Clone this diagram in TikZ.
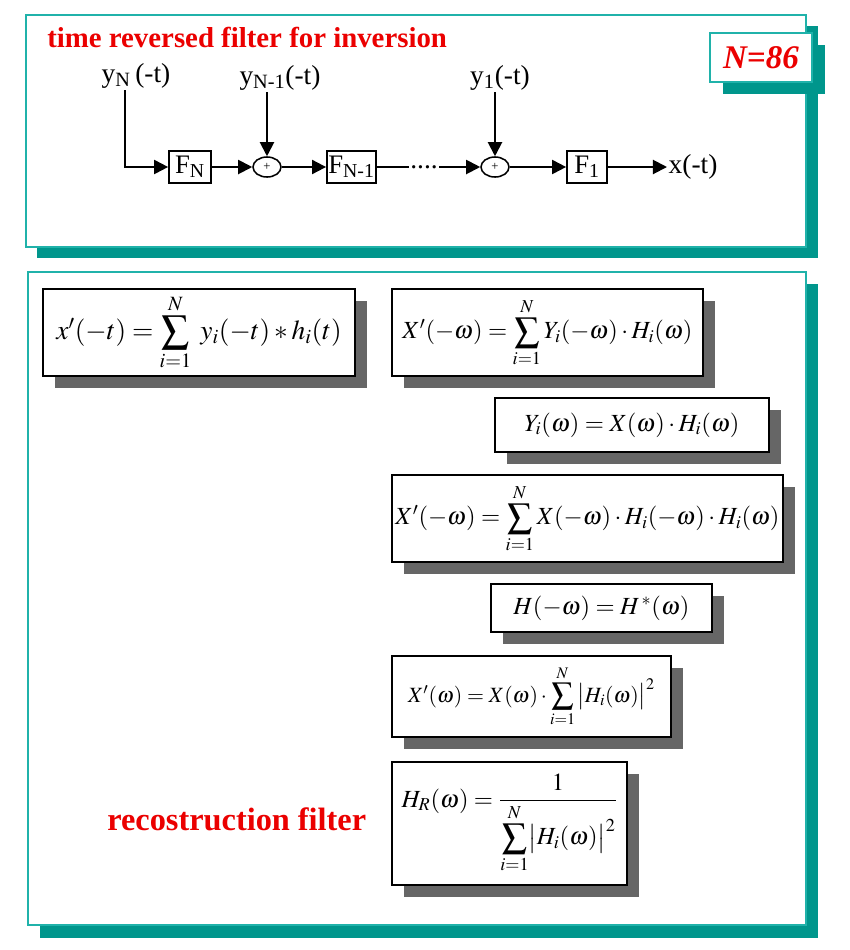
\documentclass[tikz,border=0pt]{standalone}
\usepackage{mathptmx}
\usepackage[no-math]{fontspec}
\setmainfont{Liberation Serif}
\usetikzlibrary{arrows.meta,shapes.geometric,shadows}
\definecolor{panelline}{RGB}{32,178,170}
\definecolor{panelshade}{RGB}{0,150,140}
\definecolor{boxshade}{RGB}{102,102,102}
\definecolor{headred}{RGB}{235,0,0}
\begin{document}
\begin{tikzpicture}[x=0.025cm,y=-0.025cm,
  sig/.style={line width=1.4pt,-{Triangle[length=10pt,width=10pt]}},
  blk/.style={draw,line width=1.2pt,minimum height=0.8cm,inner sep=1pt,font=\fontsize{19}{20}\selectfont},
  sum/.style={draw,ellipse,line width=1.1pt,minimum width=0.7cm,minimum height=0.5cm,inner sep=0pt,font=\fontsize{9}{10}\selectfont},
  lbl/.style={inner sep=1pt,font=\fontsize{19.5}{20}\selectfont},
  eqbox/.style={draw,line width=1.3pt,fill=white,inner sep=0pt,font=\fontsize{17.5}{20}\selectfont,
    general shadow={fill=boxshade,shadow xshift=0.3cm,shadow yshift=-0.3cm}},
  panel/.style={draw=panelline,line width=1.4pt,fill=white},
  head/.style={inner sep=0pt,text=headred}]
\useasboundingbox (0,0) rectangle (850,950);
\fill[panelshade] (37,26) rectangle (818,258);
\draw[panel] (26,15) rectangle (806,247);
\fill[panelshade] (40,284) rectangle (818,938);
\draw[panel] (28,272) rectangle (806,925);

\node[head,anchor=west,font=\fontsize{20.5}{24}\bfseries\selectfont] (title) at (47,37) {time reversed filter for inversion};
\node[draw=panelline,line width=1.4pt,fill=white,minimum width=2.55cm,minimum height=1.225cm,
  text=headred,font=\fontsize{23.5}{26}\bfseries\itshape\selectfont,
  general shadow={fill=panelshade,shadow xshift=0.325cm,shadow yshift=-0.3cm}] (Nbox) at (761,57.5) {N=86};

\node[blk,minimum width=1.05cm] (FN) at (190,167) {F\textsubscript{N}};
\node[sum] (S1) at (267,167) {+};
\node[blk,minimum width=0.975cm] (FN1) at (351.5,167) {F\textsubscript{N-1}};
\node[lbl] (dots) at (424,167) {....};
\node[sum] (S2) at (495,167) {+};
\node[blk,minimum width=1cm] (F1) at (587,167) {F\textsubscript{1}};
\node[lbl,anchor=west] (xt) at (667,167) {x(-t)};
\node[lbl] (yN) at (136,76) {y\textsubscript{N}\,(-t)};
\coordinate (tapN) at (125,90);
\node[lbl] (yN1) at (280,78) {y\textsubscript{N-1}(-t)};
\node[lbl] (y1) at (500,78) {y\textsubscript{1}(-t)};
\draw[sig] (tapN) |- (FN);
\draw[sig] (FN) -- (S1);
\draw[sig] (yN1.south -| S1) -- (S1);
\draw[sig] (S1) -- (FN1);
\draw[line width=1.4pt] (FN1) -- (dots);
\draw[sig] (dots) -- (S2);
\draw[sig] (y1.south -| S2) -- (S2);
\draw[sig] (S2) -- (F1);
\draw[sig] (F1) -- (xt);

\node[eqbox,minimum width=7.8cm,minimum height=2.175cm,font=\fontsize{19.5}{22}\selectfont] (eq1) at (199,332.5)
  {$x'(-t)=\displaystyle\sum_{i=1}^{N}\;y_i(-t)\ast h_i(t)$};
\node[eqbox,minimum width=7.775cm,minimum height=2.175cm] (eq2) at (547.5,332.5)
  {$X'(-\omega)=\displaystyle\sum_{i=1}^{N}Y_i(-\omega)\cdot H_i(\omega)$};
\node[eqbox,minimum width=6.85cm,minimum height=1.35cm] (eq3) at (632,425)
  {$Y_i(\omega)=X(\omega)\cdot H_i(\omega)$};
\node[eqbox,minimum width=9.775cm,minimum height=2.175cm] (eq4) at (587.5,518.5)
  {$X'(-\omega)=\displaystyle\sum_{i=1}^{N}X(-\omega)\cdot H_i(-\omega)\cdot H_i(\omega)$};
\node[eqbox,minimum width=5.525cm,minimum height=1.2cm] (eq5) at (601.5,608)
  {$H(-\omega)=H^{\,*}(\omega)$};
\node[eqbox,minimum width=6.975cm,minimum height=2.025cm,font=\fontsize{15.5}{18}\selectfont] (eq6) at (531.5,696.5)
  {$X'(\omega)=X(\omega)\cdot\displaystyle\sum_{i=1}^{N}\,\bigl|H_i(\omega)\bigr|^{2}$};
\node[eqbox,minimum width=5.875cm,minimum height=3.075cm] (eq7) at (509.5,823.5)
  {$\displaystyle H_R(\omega)=\frac{1}{\displaystyle\sum_{i=1}^{N}\bigl|H_i(\omega)\bigr|^{2}}$};

\node[head,anchor=base west,font=\fontsize{23}{26}\bfseries\selectfont] (recon) at (107,830) {recostruction filter};
\end{tikzpicture}
\end{document}
